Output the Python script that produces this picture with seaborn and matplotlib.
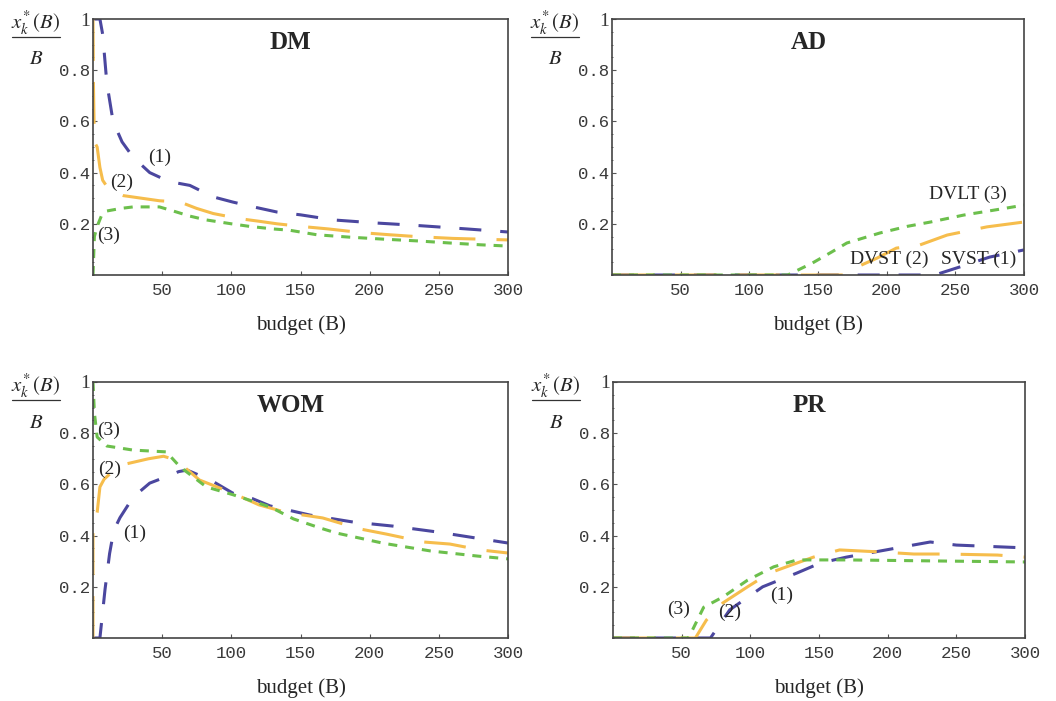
import matplotlib
matplotlib.use("Agg")
import matplotlib.pyplot as plt
import seaborn as sns
from matplotlib.lines import Line2D
from matplotlib.ticker import MultipleLocator

## data (budget B, share x_k*(B)/B)

# DM panel
dm_b1 = [0, 5, 7, 10, 14.5, 21, 29, 41, 51, 60, 70, 87, 101, 116, 133, 150, 174, 205, 230, 249, 270, 300]
dm_v1 = [1, 1, 0.94, 0.75, 0.6, 0.52, 0.46, 0.40, 0.375, 0.36, 0.35, 0.305, 0.285, 0.266, 0.246, 0.235, 0.215, 0.203, 0.195, 0.188, 0.18, 0.168]
dm_b2 = [0, 0.3, 1, 3, 5, 7, 12, 22, 35, 48, 63, 75, 87, 106, 120, 133, 150, 170, 195, 215, 234, 260, 280, 300]
dm_v2 = [1, 0.75, 0.52, 0.5, 0.42, 0.37, 0.33, 0.31, 0.30, 0.29, 0.285, 0.26, 0.24, 0.22, 0.21, 0.2, 0.19, 0.18, 0.165, 0.157, 0.15, 0.143, 0.14, 0.137]
dm_b3 = [0, 1, 3, 6, 10, 20, 29, 48, 58, 70, 82, 100, 113, 130, 142, 162, 185, 210, 235, 258, 280, 300]
dm_v3 = [0, 0.15, 0.19, 0.23, 0.25, 0.26, 0.266, 0.266, 0.25, 0.23, 0.215, 0.2, 0.19, 0.18, 0.175, 0.157, 0.148, 0.14, 0.133, 0.125, 0.118, 0.113]

# AD panel
ad_b1 = [0, 235, 253, 275, 300]
ad_v1 = [0, 0, 0.031, 0.07, 0.098]
ad_b2 = [0, 168, 180, 193, 207, 224, 244, 273, 300]
ad_v2 = [0, 0, 0.035, 0.066, 0.105, 0.117, 0.156, 0.188, 0.207]
ad_b3 = [0, 128, 146, 160, 171, 195, 215, 232, 256, 280, 300]
ad_v3 = [0, 0, 0.047, 0.09, 0.125, 0.164, 0.19, 0.207, 0.234, 0.255, 0.273]

# WOM panel
wom_b1 = [0, 5, 8.7, 12, 15, 19.5, 29, 41, 53, 62, 68, 85, 101, 115, 128, 157, 188, 217, 249, 268, 300]
wom_v1 = [0, 0, 0.19, 0.33, 0.42, 0.47, 0.55, 0.605, 0.63, 0.65, 0.656, 0.617, 0.566, 0.545, 0.516, 0.48, 0.453, 0.437, 0.414, 0.398, 0.371]
wom_b2 = [0, 0, 3, 5, 8, 12, 24, 40, 51, 60, 77, 101, 120, 140, 166, 193, 212, 239, 258, 280, 300]
wom_v2 = [0, 0.42, 0.49, 0.59, 0.62, 0.64, 0.68, 0.70, 0.71, 0.695, 0.617, 0.566, 0.52, 0.49, 0.469, 0.426, 0.406, 0.375, 0.367, 0.344, 0.332]
wom_b3 = [0, 1, 3, 10, 29, 53, 63, 82, 101, 128, 145, 164, 176, 210, 244, 278, 300]
wom_v3 = [1, 0.88, 0.785, 0.75, 0.734, 0.727, 0.668, 0.59, 0.56, 0.512, 0.465, 0.43, 0.41, 0.37, 0.34, 0.32, 0.309]

# PR panel
pr_b1 = [0, 71, 85, 109, 134, 151, 170, 207, 231, 250, 300]
pr_v1 = [0, 0, 0.11, 0.2, 0.254, 0.293, 0.316, 0.352, 0.375, 0.363, 0.352]
pr_b2 = [0, 60, 68, 80, 98, 114, 134, 146, 165, 195, 219, 243, 280, 300]
pr_v2 = [0, 0, 0.07, 0.137, 0.2, 0.254, 0.293, 0.316, 0.344, 0.336, 0.328, 0.328, 0.324, 0.316]
pr_b3 = [0, 55, 66, 80, 98, 117, 134, 170, 300]
pr_v3 = [0, 0, 0.12, 0.16, 0.226, 0.278, 0.305, 0.305, 0.297]

panel_names = ["DM", "AD", "WOM", "PR"]
x_ticks = [50, 100, 150, 200, 250, 300]
y_ticks = [0.2, 0.4, 0.6, 0.8, 1]
y_ticklabels = ['0.2', '0.4', '0.6', '0.8', '1']

# curve labels: (text, B, value)
dm_labels = [("(1)", 48, 0.46), ("(2)", 21, 0.36), ("(3)", 11, 0.155)]
ad_labels = [("DVLT (3)", 259, 0.315), ("DVST (2)", 202, 0.06), ("SVST (1)", 267, 0.06)]
wom_labels = [("(3)", 11, 0.81), ("(2)", 12, 0.66), ("(1)", 30, 0.41)]
pr_labels = [("(3)", 48, 0.11), ("(2)", 85, 0.10), ("(1)", 123, 0.165)]

sns.set_style("ticks")
plt.rcParams['font.family'] = ['Liberation Serif', 'DejaVu Serif']
plt.rcParams['mathtext.fontset'] = 'stix'

purple = '#4b479f'
orange = '#f6bd4c'
green = '#6cbf4c'

W, H = 1056, 701
fig = plt.figure(figsize=(W / 100, H / 100), dpi=100)

# axes boxes in pixels: left, top, width, height
boxes = [(93, 19, 415, 256), (612, 19, 412, 256), (93, 382, 415, 256), (613, 382, 412, 256)]

series = [
    [(dm_b1, dm_v1), (dm_b2, dm_v2), (dm_b3, dm_v3)],
    [(ad_b1, ad_v1), (ad_b2, ad_v2), (ad_b3, ad_v3)],
    [(wom_b1, wom_v1), (wom_b2, wom_v2), (wom_b3, wom_v3)],
    [(pr_b1, pr_v1), (pr_b2, pr_v2), (pr_b3, pr_v3)],
]
labels = [dm_labels, ad_labels, wom_labels, pr_labels]

styles = [
    (purple, (0, (7.2, 6.2))),
    (orange, (0, (13.7, 6.9))),
    (green, (0, (2.95, 2.6))),
]

for i, (l, t, w, h) in enumerate(boxes):
    ax = fig.add_axes([l / W, 1 - (t + h) / H, w / W, h / H])
    for (b, v), (col, ls) in zip(series[i], styles):
        sns.lineplot(x=b, y=v, ax=ax, color=col, linestyle=ls, linewidth=2.2,
                     estimator=None, sort=False)
    ax.set_xlim(0, 300)
    ax.set_ylim(0, 1)
    ax.set_xticks(x_ticks)
    ax.set_xticklabels([str(x) for x in x_ticks], family='Liberation Mono', fontsize=12.5, color='#3a3a3a')
    ax.set_yticks(y_ticks)
    ax.set_yticklabels(y_ticklabels, family='Liberation Mono', fontsize=12.5, color='#3a3a3a')
    ax.get_yticklabels()[-1].set_family('Liberation Serif')
    ax.get_yticklabels()[-1].set_fontsize(14)
    ax.yaxis.set_minor_locator(MultipleLocator(0.05))
    ax.tick_params(which='major', direction='in', length=3, width=0.8, color='#555555')
    ax.tick_params(axis='x', which='major', pad=6)
    ax.tick_params(axis='y', which='major', pad=2)
    ax.tick_params(which='minor', direction='inout', length=2, width=0.6, color='#555555')
    for sp in ax.spines.values():
        sp.set_color('#444444')
        sp.set_linewidth(1.2)
    ax.set_xlabel('budget (B)', fontsize=15, labelpad=12)
    ax.set_ylabel('')
    ax.text(143, 0.91, panel_names[i], fontsize=18, fontweight='bold', ha='center', va='center')
    for txt, bx, vy in labels[i]:
        ax.text(bx, vy, txt, fontsize=14, ha='center', va='center')

    # y-axis label drawn as a fraction in the upper left corner
    cx = l - 57
    fig.text(cx / W, 1 - (t + 4) / H, r'$x^{*}_{k}\,(B)$', fontsize=15, ha='center', va='center')
    fig.add_artist(Line2D([(cx - 24) / W, (cx + 24) / W], [1 - (t + 18) / H] * 2,
                          color='#333333', linewidth=0.9))
    fig.text(cx / W, 1 - (t + 41) / H, r'$B$', fontsize=15, ha='center', va='center')

fig.savefig('out.png', dpi=100)
